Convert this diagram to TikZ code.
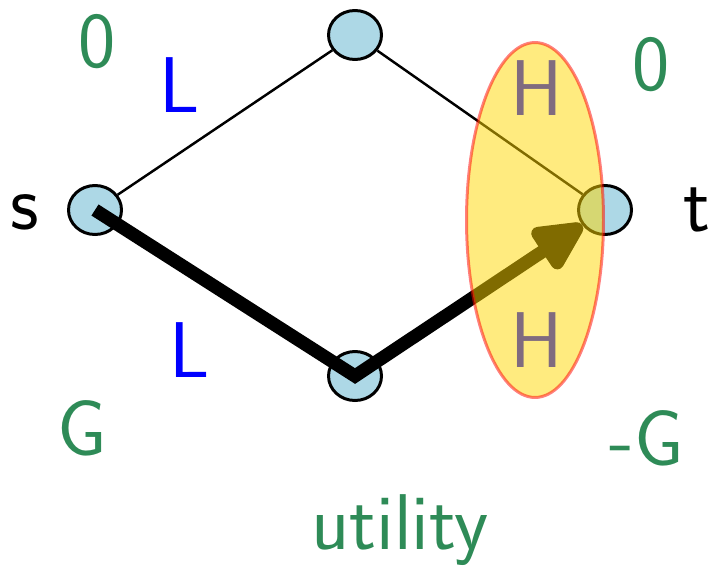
\documentclass[tikz,border=0pt]{standalone}
\usetikzlibrary{arrows.meta, shapes.geometric}
\definecolor{NodeBlue}{HTML}{ADD8E6}
\definecolor{SeaGreen}{HTML}{2E8B57}
\definecolor{CutGold}{HTML}{FFD700}
\tikzset{
  vertex/.style={draw=black, line width=1.7pt, ellipse, fill=NodeBlue, inner sep=0pt, minimum width=1.06cm, minimum height=0.98cm},
  edge/.style={draw=black, line width=1.4pt},
  pathedge/.style={draw=black, line width=7.5pt, line join=miter, -{Triangle[length=1.15cm, width=1.05cm, round]}},
  cutset/.style={ellipse, fill=CutGold, fill opacity=0.5, draw=red, draw opacity=0.5, line width=1.7pt, inner sep=0pt, minimum width=2.74cm, minimum height=7.1cm},
  lbl/.style={inner sep=0pt, font=\fontsize{45}{52}\selectfont\sffamily},
  cost/.style={lbl, text=blue},
  util/.style={lbl, text=SeaGreen}
}
\begin{document}
\begin{tikzpicture}[x=0.02cm, y=-0.02cm]
\useasboundingbox (0,0) rectangle (712,568);

\node[vertex] (s) at (95,210) {};
\node[vertex] (top) at (355,35) {};
\node[vertex] (bot) at (355,376) {};
\node[vertex] (t) at (605,210) {};

\draw[edge] (s) -- (top);
\draw[edge] (top) -- (t);
\draw[pathedge] (s.center) -- (bot.center) -- (t);

\node[lbl] (slbl) at (25,212) {s};
\node[lbl] (tlbl) at (697,210) {t};
\node[cost] (l1) at (180,85) {L};
\node[cost] (l2) at (190,350) {L};
\node[cost] (h1) at (537,88) {H};
\node[cost] (h2) at (537,340) {H};
\node[util] (u1) at (97,42) {0};
\node[util] (u2) at (651,65) {0};
\node[util] (u3) at (82,428) {G};
\node[util] (u4) at (647,438) {-G};
\node[util] (ulbl) at (400,530) {utility};

\node[cutset] (cut) at (535,220) {};
\end{tikzpicture}
\end{document}
